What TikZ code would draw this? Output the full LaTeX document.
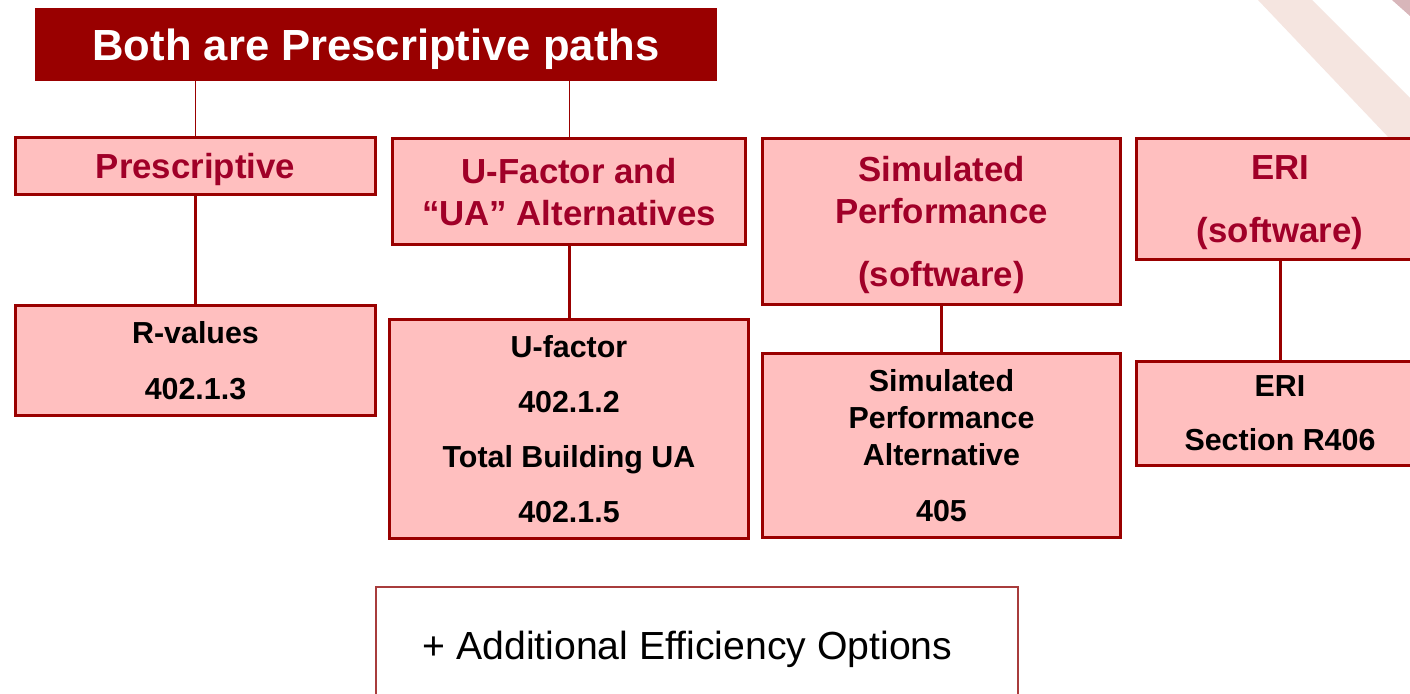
\documentclass[tikz,border=0pt]{standalone}
\usepackage{fontspec}
\setmainfont{Liberation Sans}
\usepackage{tikz}
\definecolor{titlered}{RGB}{153,0,0}
\definecolor{boxline}{RGB}{153,0,0}
\definecolor{boxfill}{RGB}{255,191,191}
\definecolor{headred}{RGB}{160,0,40}
\definecolor{optline}{RGB}{168,60,60}
\definecolor{band}{RGB}{245,229,224}
\definecolor{bandcorner}{RGB}{216,182,186}

\begin{document}
\begin{tikzpicture}[
  x=0.5pt, y=-0.5pt,
  titlebox/.style = {fill=titlered, text=white, inner sep=0pt, text depth=0pt,
                     font=\fontsize{21.8}{26}\selectfont\bfseries},
  head/.style  = {draw=boxline, line width=1.5pt, fill=boxfill, text=headred,
                  align=center, inner sep=0pt, text depth=0pt,
                  font=\fontsize{17.4}{21}\selectfont\bfseries},
  item/.style  = {draw=boxline, line width=1.5pt, fill=boxfill, align=center,
                  inner sep=0pt, text depth=0pt,
                  font=\fontsize{15.2}{18.5}\selectfont\bfseries},
  optbox/.style = {draw=optline, line width=1pt, fill=white, inner sep=0pt,
                   text depth=0pt, font=\fontsize{19.6}{23}\selectfont},
  link/.style     = {draw=boxline, line width=1.5pt},
  thinlink/.style = {draw=boxline, line width=0.5pt}
]
\path[use as bounding box] (0,0) rectangle (1410,694);
\clip (0,0) rectangle (1410,694);
\fill[white] (0,0) rectangle (1410,694);

% faint stripes, top right
\fill[band] (1258,0) -- (1312,0) -- (1410,98) -- (1410,160) -- cycle;
\fill[bandcorner] (1392,0) -- (1410,0) -- (1410,16) -- cycle;

\node[titlebox, minimum width=341pt, minimum height=36.5pt] (title)
  at (376,44.5) {Both are Prescriptive paths};

% paths
\node[head, minimum width=180pt, minimum height=28.5pt] (presc)
  at (195.5,166) {Prescriptive};
\node[head, minimum width=176.5pt, minimum height=53pt] (ufac)
  at (569,191.5) {U-Factor and\\“UA” Alternatives};
\node[head, minimum width=179pt, minimum height=83pt] (simp)
  at (941.5,221.5) {Simulated\\Performance\\[10.5pt](software)};
\node[head, minimum width=143.5pt, minimum height=60.5pt] (eri)
  at (1280,199) {ERI\\[10.5pt](software)};

% code sections
\node[item, minimum width=180pt, minimum height=55pt] (rval)
  at (195.5,360.5) {R-values\\[9.5pt]402.1.3};
\node[item, minimum width=179.5pt, minimum height=109.5pt] (uval)
  at (569,429) {U-factor\\[9pt]402.1.2\\[9pt]Total Building UA\\[9pt]402.1.5};
\node[item, minimum width=179pt, minimum height=92pt] (siml)
  at (941.5,445.5) {Simulated\\Performance\\Alternative\\[9.5pt]405};
\node[item, minimum width=143.5pt, minimum height=52pt] (eril)
  at (1280,413.5) {ERI\\[8.5pt]Section R406};

\node[optbox, minimum width=321pt, minimum height=58pt] (opts)
  at (697,645) {+ Additional Efficiency Options\hspace*{9.5pt}};

\draw[thinlink] (title.south -| presc.north) -- (presc.north);
\draw[thinlink] (title.south -| ufac.north) -- (ufac.north);
\draw[link] (presc) -- (rval);
\draw[link] (ufac) -- (uval);
\draw[link] (simp) -- (siml);
\draw[link] (eri) -- (eril);
\end{tikzpicture}
\end{document}
